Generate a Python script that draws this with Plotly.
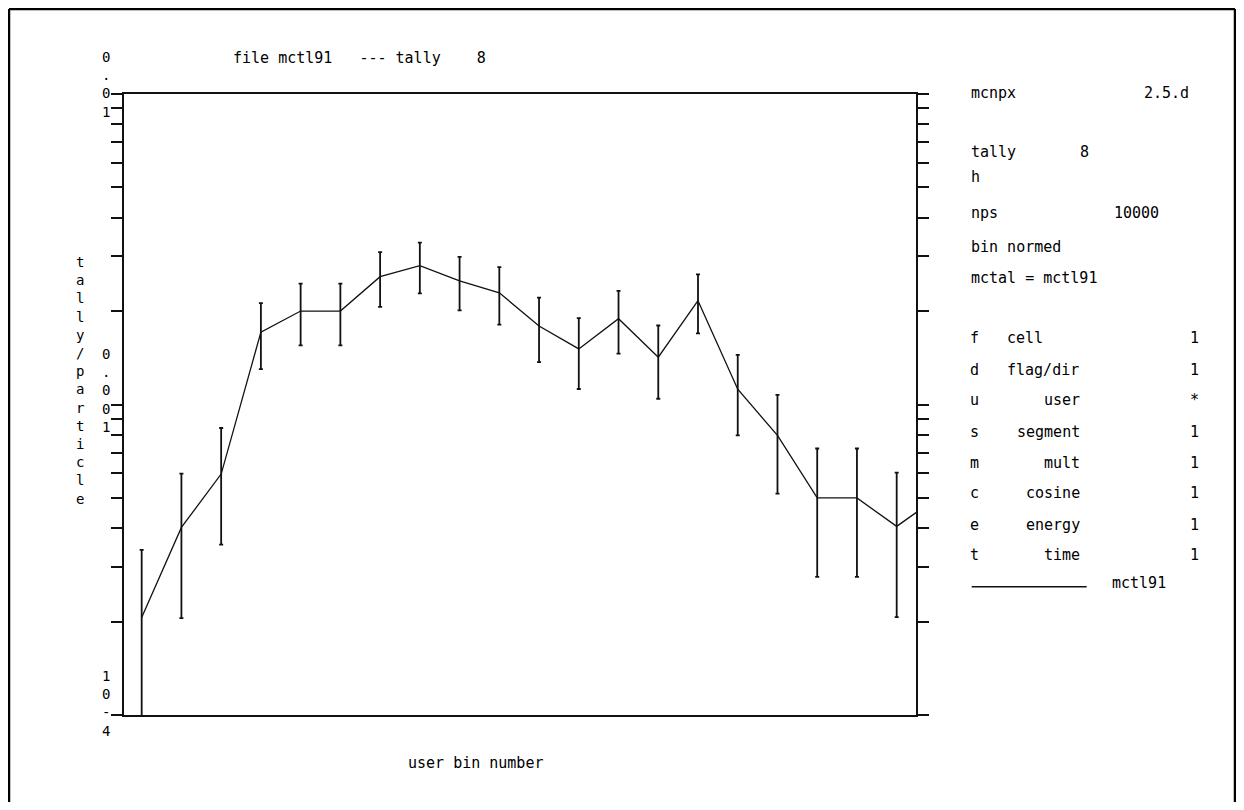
import plotly.graph_objects as go

# ---------------- data ----------------
bins = list(range(1, 22))
tally = [2.06e-4, 4.02e-4, 5.97e-4, 1.71e-3, 2.00e-3, 2.00e-3, 2.58e-3,
         2.80e-3, 2.50e-3, 2.29e-3, 1.79e-3, 1.51e-3, 1.89e-3, 1.42e-3,
         2.16e-3, 1.12e-3, 7.95e-4, 5.00e-4, 5.00e-4, 4.05e-4, 5.00e-4]
rel_err = [0.652, 0.49, 0.407, 0.24, 0.225, 0.225, 0.20, 0.186, 0.196, 0.21,
           0.235, 0.257, 0.228, 0.265, 0.215, 0.29, 0.35, 0.443, 0.443, 0.49,
           0.45]

title_text = "file mctl91   --- tally    8"
x_title = "user bin number"
y_title = "tally/particle"
y_label_texts = ["0.01", "0.001", "10-4"]

header_labels = ["mcnpx", "tally", "h", "nps", "bin normed", "mctal = mctl91"]
header_values = ["2.5.d", "8", "", "10000", "", ""]
bin_letters = ["f", "d", "u", "s", "m", "c", "e", "t"]
bin_names = ["cell", "flag/dir", "user", "segment", "mult", "cosine", "energy", "time"]
bin_values = ["1", "1", "*", "1", "1", "1", "1", "1"]
legend_name = "mctl91"

# ---------------- layout geometry (page pixels) ----------------
OFF = 8            # browser body margin
W, H = 1228, 794
ML, MT = 116, 86
PW, PH = 792, 621
MR = W - ML - PW
MB = H - MT - PH


def px(x):
    return (x - OFF - ML) / PW


def py(y):
    return 1 - (y - OFF - MT) / PH


FONT = "DejaVu Sans Mono"
INK = "#111111"

err_up = [v * r for v, r in zip(tally, rel_err)]

fig = go.Figure()
fig.add_trace(go.Scatter(
    x=bins, y=tally, mode="lines",
    line=dict(color=INK, width=1.3),
    error_y=dict(type="data", array=err_up, arrayminus=err_up,
                 color=INK, thickness=1.8, width=2),
    showlegend=False, hoverinfo="skip",
))

tickvals = [m * 10 ** e for e in (-4, -3) for m in range(1, 10)] + [1e-2]

fig.update_layout(
    width=W, height=H,
    margin=dict(l=ML, r=MR, t=MT, b=MB, pad=0),
    paper_bgcolor="white", plot_bgcolor="white",
    font=dict(family=FONT, size=15, color="black"),
    xaxis=dict(range=[0.555, 20.486], showgrid=False, zeroline=False,
               showticklabels=False, ticks="", showline=True,
               linecolor=INK, linewidth=2, mirror=True),
    yaxis=dict(type="log", range=[-4, -2], showgrid=False, zeroline=False,
               showticklabels=False, ticks="outside", ticklen=11,
               tickwidth=1.5, tickcolor=INK, tickvals=tickvals,
               showline=True, linecolor=INK, linewidth=2, mirror="ticks"),
)

ann = []


def add_text(text, x, y, xanchor="left", size=15):
    ann.append(dict(text=text, x=px(x), y=py(y), xref="paper", yref="paper",
                    xanchor=xanchor, yanchor="middle", showarrow=False,
                    font=dict(family=FONT, size=size, color="black")))


# title and axis titles
add_text(title_text.replace(" ", "\u00a0"), 231, 58)
add_text(x_title.replace(" ", "\u00a0"), 475, 763, xanchor="center")
add_text("<br>".join(list(y_title)), 80, 380, xanchor="center", size=14)

# stacked y tick labels
for t, yc in zip(y_label_texts, [85, 390, 703]):
    add_text("<br>".join(list(t)), 106, yc, xanchor="center", size=14)

# header info
header_y = [92.7, 151.7, 176.7, 213.3, 246.7, 278.3]
header_val_x = [1191, 1091, None, 1161, None, None]
for lab, val, yy, vx in zip(header_labels, header_values, header_y, header_val_x):
    add_text(lab.replace(" ", "\u00a0"), 969, yy)
    if val:
        add_text(val, vx, yy, xanchor="right")

# bin info
bin_y = [338.3, 370, 400, 431.7, 462.7, 493.3, 525, 555]
for i, (l, n, v, yy) in enumerate(zip(bin_letters, bin_names, bin_values, bin_y)):
    add_text(l, 975, yy, xanchor="center")
    if i < 2:
        add_text(n, 1005, yy)
    else:
        add_text(n, 1082, yy, xanchor="right")
    add_text(v, 1194, yy, xanchor="center")

add_text(legend_name, 1110, 583)

fig.update_layout(annotations=ann)

shapes = [
    # legend line sample
    dict(type="line", xref="paper", yref="paper", x0=px(971.7), x1=px(1086.7),
         y0=py(586.7), y1=py(586.7), line=dict(color=INK, width=1.5)),
    # outer frame (left, top, right)
    dict(type="line", xref="paper", yref="paper", x0=px(9), x1=px(9),
         y0=py(9), y1=py(820), line=dict(color="black", width=2.5)),
    dict(type="line", xref="paper", yref="paper", x0=px(9), x1=px(1235),
         y0=py(9), y1=py(9), line=dict(color="black", width=2.5)),
    dict(type="line", xref="paper", yref="paper", x0=px(1235), x1=px(1235),
         y0=py(9), y1=py(820), line=dict(color="black", width=2.5)),
]
fig.update_layout(shapes=shapes)

fig.write_html("out.html")
